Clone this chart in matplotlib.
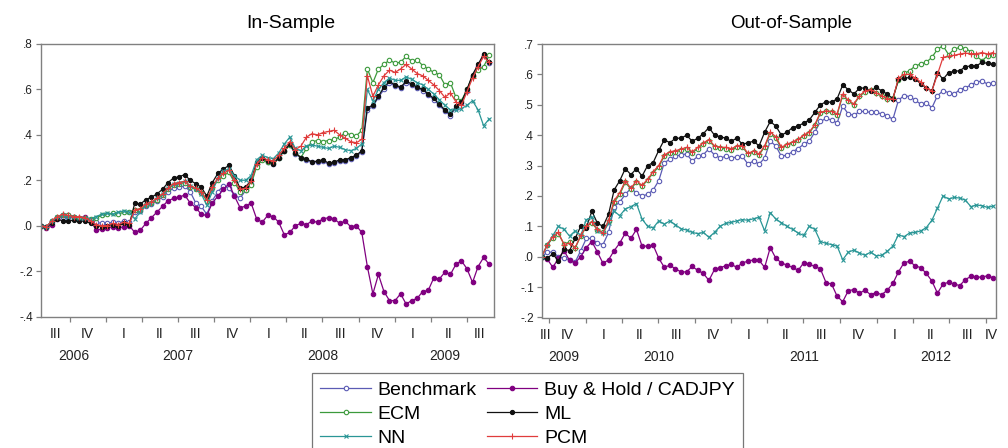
import matplotlib
matplotlib.use("Agg")
import matplotlib.pyplot as plt
import matplotlib.dates as mdates
from matplotlib.transforms import blended_transform_factory
from matplotlib.lines import Line2D
import pandas as pd

plt.rcParams['font.family'] = ['Liberation Sans', 'DejaVu Sans']

# ---------------- data (bi-weekly readings) ----------------
in_start, in_end = "2006-07-20", "2009-09-07"
out_start, out_end = "2009-09-12", "2012-10-27"

in_bench = [0.0, -0.005, 0.02, 0.035, 0.04, 0.04, 0.035, 0.03, 0.03, 0.025,
            0.015, 0.01, 0.01, 0.015, 0.01, 0.02, 0.015, 0.06, 0.065, 0.085,
            0.095, 0.11, 0.125, 0.15, 0.165, 0.17, 0.175, 0.15, 0.1, 0.085,
            0.05, 0.11, 0.15, 0.175, 0.165, 0.135, 0.12, 0.155, 0.185, 0.27,
            0.295, 0.28, 0.27, 0.3, 0.33, 0.355, 0.315, 0.3, 0.29, 0.28,
            0.28, 0.285, 0.27, 0.275, 0.285, 0.285, 0.295, 0.305, 0.325, 0.51,
            0.525, 0.565, 0.6, 0.63, 0.615, 0.605, 0.63, 0.62, 0.605, 0.595,
            0.575, 0.555, 0.53, 0.505, 0.485, 0.52, 0.54, 0.595, 0.66, 0.705,
            0.75, 0.715]
in_bh = [0.0, -0.01, 0.005, 0.03, 0.045, 0.045, 0.04, 0.035, 0.04, 0.025,
         -0.02, -0.015, -0.01, -0.005, -0.01, -0.005, 0.0, -0.03, -0.02, 0.01,
         0.035, 0.06, 0.085, 0.11, 0.12, 0.125, 0.135, 0.1, 0.08, 0.05,
         0.045, 0.1, 0.13, 0.16, 0.185, 0.13, 0.08, 0.085, 0.1, 0.03,
         0.015, 0.045, 0.04, 0.015, -0.04, -0.03, 0.0, 0.01, 0.005, 0.02,
         0.015, 0.03, 0.035, 0.03, 0.01, 0.02, -0.005, 0.0, -0.03, -0.18,
         -0.3, -0.215, -0.29, -0.33, -0.33, -0.3, -0.345, -0.33, -0.32, -0.29,
         -0.285, -0.23, -0.235, -0.205, -0.215, -0.17, -0.155, -0.19, -0.25, -0.18,
         -0.14, -0.17]
in_ecm = [0.0, -0.005, 0.02, 0.04, 0.045, 0.045, 0.04, 0.035, 0.035, 0.03,
          0.035, 0.045, 0.05, 0.055, 0.05, 0.06, 0.06, 0.07, 0.07, 0.09,
          0.1, 0.115, 0.135, 0.16, 0.18, 0.185, 0.19, 0.17, 0.16, 0.145,
          0.11, 0.165, 0.2, 0.22, 0.235, 0.19, 0.15, 0.155, 0.18, 0.26,
          0.29, 0.28, 0.275, 0.3, 0.33, 0.355, 0.32, 0.3, 0.34, 0.37,
          0.375, 0.37, 0.375, 0.38, 0.39, 0.41, 0.4, 0.395, 0.42, 0.69,
          0.63, 0.69, 0.71, 0.73, 0.715, 0.72, 0.745, 0.725, 0.73, 0.705,
          0.69, 0.675, 0.665, 0.62, 0.63, 0.565, 0.55, 0.6, 0.66, 0.685,
          0.7, 0.75]
in_ml = [0.0, -0.005, 0.01, 0.03, 0.02, 0.02, 0.025, 0.02, 0.02, 0.01,
         0.0, -0.005, 0.0, 0.005, 0.0, 0.01, 0.005, 0.1, 0.095, 0.115,
         0.125, 0.14, 0.16, 0.19, 0.21, 0.215, 0.225, 0.2, 0.185, 0.17,
         0.13, 0.19, 0.23, 0.25, 0.265, 0.22, 0.165, 0.17, 0.2, 0.28,
         0.3, 0.285, 0.27, 0.3, 0.33, 0.36, 0.32, 0.3, 0.295, 0.28,
         0.285, 0.29, 0.275, 0.28, 0.29, 0.29, 0.3, 0.31, 0.33, 0.52,
         0.53, 0.57, 0.61, 0.635, 0.62, 0.61, 0.635, 0.625, 0.61, 0.6,
         0.58, 0.56, 0.535, 0.51, 0.49, 0.525, 0.545, 0.6, 0.665, 0.71,
         0.755, 0.72]
in_nn = [0.0, -0.005, 0.02, 0.04, 0.045, 0.04, 0.04, 0.035, 0.035, 0.03,
         0.04, 0.05, 0.055, 0.05, 0.06, 0.065, 0.06, 0.03, 0.06, 0.09,
         0.1, 0.12, 0.14, 0.165, 0.185, 0.19, 0.195, 0.175, 0.16, 0.14,
         0.09, 0.15, 0.21, 0.24, 0.25, 0.22, 0.2, 0.2, 0.22, 0.29,
         0.31, 0.3, 0.295, 0.32, 0.36, 0.39, 0.34, 0.33, 0.35, 0.355,
         0.35, 0.345, 0.34, 0.35, 0.345, 0.335, 0.33, 0.34, 0.36, 0.6,
         0.55, 0.6, 0.63, 0.65, 0.64, 0.64, 0.655, 0.645, 0.63, 0.62,
         0.6, 0.58, 0.555, 0.53, 0.51, 0.51, 0.515, 0.53, 0.55, 0.51,
         0.44, 0.47]
in_pcm = [0.0, -0.005, 0.02, 0.04, 0.05, 0.045, 0.04, 0.04, 0.035, 0.02,
          0.005, 0.0, 0.0, 0.01, 0.005, 0.015, 0.01, 0.07, 0.075, 0.095,
          0.105, 0.12, 0.14, 0.165, 0.185, 0.19, 0.195, 0.175, 0.165, 0.15,
          0.115, 0.17, 0.21, 0.23, 0.245, 0.2, 0.16, 0.165, 0.195, 0.27,
          0.3, 0.29, 0.285, 0.31, 0.34, 0.37, 0.335, 0.35, 0.39, 0.405,
          0.4, 0.41, 0.415, 0.42, 0.4, 0.385, 0.37, 0.365, 0.38, 0.66,
          0.57, 0.62, 0.66, 0.685, 0.675, 0.69, 0.71, 0.69, 0.67, 0.66,
          0.64, 0.62, 0.595, 0.565, 0.585, 0.545, 0.53, 0.59, 0.65, 0.7,
          0.745, 0.72]

out_bench = [0.0, 0.015, 0.015, 0.0, -0.005, -0.01, -0.018, 0.02, 0.06, 0.06,
             0.045, 0.04, 0.08, 0.165, 0.18, 0.205, 0.225, 0.21, 0.2, 0.205,
             0.22, 0.25, 0.31, 0.32, 0.33, 0.336, 0.338, 0.315, 0.33, 0.336,
             0.355, 0.335, 0.325, 0.33, 0.325, 0.328, 0.33, 0.305, 0.315, 0.305,
             0.325, 0.38, 0.365, 0.33, 0.335, 0.345, 0.356, 0.37, 0.38, 0.41,
             0.445, 0.455, 0.45, 0.44, 0.495, 0.47, 0.465, 0.478, 0.478, 0.475,
             0.475, 0.47, 0.464, 0.452, 0.515, 0.53, 0.527, 0.515, 0.502, 0.507,
             0.49, 0.53, 0.546, 0.54, 0.535, 0.55, 0.556, 0.565, 0.575, 0.578,
             0.568, 0.572]
out_bh = [0.0, -0.008, -0.035, -0.005, 0.02, -0.012, -0.02, 0.0, 0.03, 0.05,
          0.015, -0.022, -0.01, 0.02, 0.045, 0.078, 0.06, 0.09, 0.035, 0.035,
          0.038, -0.005, -0.035, -0.028, -0.04, -0.05, -0.05, -0.032, -0.045, -0.055,
          -0.078, -0.042, -0.036, -0.03, -0.025, -0.035, -0.02, -0.015, -0.01, -0.012,
          -0.035, 0.03, -0.005, -0.02, -0.028, -0.035, -0.045, -0.02, -0.025, -0.032,
          -0.04, -0.085, -0.09, -0.13, -0.148, -0.112, -0.108, -0.12, -0.11, -0.125,
          -0.118, -0.125, -0.11, -0.088, -0.05, -0.02, -0.015, -0.03, -0.036, -0.055,
          -0.08, -0.12, -0.09, -0.084, -0.09, -0.095, -0.075, -0.065, -0.066, -0.068,
          -0.062, -0.07]
out_ecm = [0.0, 0.038, 0.062, 0.075, 0.042, 0.048, 0.028, 0.068, 0.098, 0.112,
           0.088, 0.08, 0.118, 0.18, 0.205, 0.245, 0.222, 0.246, 0.232, 0.252,
           0.276, 0.296, 0.332, 0.342, 0.346, 0.35, 0.356, 0.342, 0.356, 0.372,
           0.382, 0.362, 0.357, 0.356, 0.352, 0.36, 0.362, 0.337, 0.345, 0.335,
           0.362, 0.405, 0.39, 0.357, 0.367, 0.375, 0.384, 0.398, 0.408, 0.432,
           0.472, 0.478, 0.475, 0.468, 0.53, 0.512, 0.5, 0.528, 0.542, 0.548,
           0.538, 0.528, 0.52, 0.522, 0.58, 0.603, 0.612, 0.628, 0.634, 0.64,
           0.656, 0.683, 0.694, 0.665, 0.683, 0.689, 0.685, 0.675, 0.66, 0.645,
           0.661, 0.665]
out_ml = [0.0, -0.005, 0.01, -0.015, 0.025, 0.02, 0.06, 0.1, 0.095, 0.15,
          0.11, 0.1, 0.14, 0.22, 0.25, 0.29, 0.27, 0.29, 0.265, 0.3,
          0.31, 0.35, 0.385, 0.375, 0.39, 0.39, 0.4, 0.38, 0.39, 0.405,
          0.425, 0.4, 0.395, 0.39, 0.38, 0.39, 0.37, 0.375, 0.38, 0.365,
          0.41, 0.445, 0.43, 0.4, 0.41, 0.425, 0.43, 0.44, 0.45, 0.475,
          0.5, 0.51, 0.508, 0.52, 0.565, 0.55, 0.535, 0.555, 0.555, 0.545,
          0.557, 0.546, 0.535, 0.52, 0.584, 0.587, 0.59, 0.584, 0.57, 0.555,
          0.546, 0.606, 0.584, 0.606, 0.61, 0.612, 0.625, 0.628, 0.628, 0.64,
          0.636, 0.634]
out_nn = [0.0, 0.04, 0.07, 0.1, 0.09, 0.068, 0.085, 0.07, 0.122, 0.13,
          0.085, 0.078, 0.11, 0.15, 0.135, 0.157, 0.165, 0.175, 0.124, 0.1,
          0.095, 0.118, 0.107, 0.118, 0.105, 0.092, 0.088, 0.08, 0.076, 0.08,
          0.064, 0.08, 0.1, 0.11, 0.113, 0.118, 0.122, 0.12, 0.125, 0.13,
          0.085, 0.145, 0.124, 0.112, 0.1, 0.09, 0.078, 0.07, 0.1, 0.09,
          0.05, 0.044, 0.04, 0.035, -0.01, 0.015, 0.022, 0.012, 0.005, 0.015,
          0.003, 0.005, 0.018, 0.035, 0.072, 0.066, 0.078, 0.08, 0.085, 0.096,
          0.12, 0.16, 0.2, 0.19, 0.195, 0.193, 0.186, 0.165, 0.17, 0.168,
          0.162, 0.167]
out_pcm = [0.0, 0.04, 0.065, 0.08, 0.04, 0.045, 0.03, 0.07, 0.1, 0.115,
           0.09, 0.078, 0.12, 0.185, 0.21, 0.25, 0.225, 0.25, 0.235, 0.255,
           0.28, 0.3, 0.335, 0.345, 0.349, 0.354, 0.36, 0.345, 0.36, 0.375,
           0.385, 0.365, 0.36, 0.36, 0.355, 0.365, 0.365, 0.34, 0.348, 0.338,
           0.365, 0.41, 0.395, 0.36, 0.37, 0.378, 0.386, 0.4, 0.41, 0.435,
           0.475, 0.48, 0.478, 0.47, 0.535, 0.515, 0.503, 0.53, 0.545, 0.55,
           0.54, 0.53, 0.52, 0.519, 0.588, 0.6, 0.6, 0.588, 0.575, 0.555,
           0.546, 0.6, 0.656, 0.66, 0.663, 0.667, 0.67, 0.668, 0.668, 0.672,
           0.667, 0.672]

labels = ["Benchmark", "Buy & Hold / CADJPY", "ECM", "ML", "NN", "PCM"]
# ---------------- styles ----------------
styles = {
    "Benchmark": dict(color="#5b5bb4", marker="o", mfc="white", ms=3.2, mew=0.8),
    "Buy & Hold / CADJPY": dict(color="#800080", marker="o", mfc="#800080", ms=3.2, mew=0.8),
    "ECM": dict(color="#3c9a3c", marker="o", mfc="white", ms=3.2, mew=0.8),
    "ML": dict(color="#111111", marker="o", mfc="#111111", ms=3.0, mew=0.8),
    "NN": dict(color="#2a9696", marker="x", ms=3.2, mew=0.8),
    "PCM": dict(color="#e03c3c", marker="+", ms=4.0, mew=0.8),
}

ROMAN = {1: "I", 2: "II", 3: "III", 4: "IV"}
GRAY = "#808080"


def quarter_starts(s, e):
    y, q = s.year, (s.month - 1) // 3
    out = []
    while True:
        d = pd.Timestamp(y, 3 * q + 1, 1)
        if d > e:
            break
        out.append(d)
        q += 1
        if q == 4:
            q, y = 0, y + 1
    return out


def fmt(v, pos=None):
    s = f"{v:.1f}"
    return s.replace("0.", ".")


def decorate(ax, start, end, ylim, yticks):
    s, e = pd.Timestamp(start), pd.Timestamp(end)
    ax.set_xlim(s, e)
    ax.set_ylim(*ylim)
    ax.set_yticks(yticks)
    ax.yaxis.set_major_formatter(plt.FuncFormatter(fmt))
    qs = quarter_starts(s, e)
    ax.set_xticks([q for q in qs if q > s])
    ax.set_xticklabels([])
    ax.tick_params(axis="both", direction="out", length=3.5, width=0.9,
                   color=GRAY, labelsize=8.5, labelcolor="#222222", pad=2)
    for sp in ax.spines.values():
        sp.set_color(GRAY)
        sp.set_linewidth(1.0)
    trans = blended_transform_factory(ax.transData, ax.transAxes)
    for q in qs:
        nq = q + pd.DateOffset(months=3)
        a, b = max(q, s), min(nq, e)
        c = a + (b - a) / 2
        ax.text(mdates.date2num(c), -0.04, ROMAN[(q.month - 1) // 3 + 1],
                transform=trans, ha="center", va="top", fontsize=10, color="#222222")
    for yr in range(s.year, e.year + 1):
        a = max(pd.Timestamp(yr, 1, 1), s)
        b = min(pd.Timestamp(yr + 1, 1, 1), e)
        c = a + (b - a) / 2
        ax.text(mdates.date2num(c), -0.12, str(yr), transform=trans,
                ha="center", va="top", fontsize=10, color="#222222")


fig = plt.figure(figsize=(10.08, 4.48), dpi=100)
ax1 = fig.add_axes([40.7 / 1008, 1 - 316.5 / 448, 452.8 / 1008, 272.5 / 448])
ax2 = fig.add_axes([541.7 / 1008, 1 - 317.5 / 448, 454.3 / 1008, 273.5 / 448])

in_series = {"Benchmark": in_bench, "Buy & Hold / CADJPY": in_bh, "ECM": in_ecm,
             "ML": in_ml, "NN": in_nn, "PCM": in_pcm}
out_series = {"Benchmark": out_bench, "Buy & Hold / CADJPY": out_bh, "ECM": out_ecm,
              "ML": out_ml, "NN": out_nn, "PCM": out_pcm}

in_dates = pd.date_range(in_start, periods=len(in_ml), freq="14D")
out_dates = pd.date_range(out_start, periods=len(out_ml), freq="14D")

for name in labels:
    st = styles[name]
    ax1.plot(in_dates, in_series[name], color=st["color"], lw=0.9, marker=st["marker"],
             ms=st["ms"], mfc=st.get("mfc", st["color"]), mec=st["color"], mew=st["mew"])
    ax2.plot(out_dates, out_series[name], color=st["color"], lw=0.9, marker=st["marker"],
             ms=st["ms"], mfc=st.get("mfc", st["color"]), mec=st["color"], mew=st["mew"])

decorate(ax1, in_start, in_end, (-0.4, 0.8), [-0.4, -0.2, 0.0, 0.2, 0.4, 0.6, 0.8])
decorate(ax2, out_start, out_end, (-0.2, 0.7), [-0.2, -0.1, 0.0, 0.1, 0.2, 0.3, 0.4, 0.5, 0.6, 0.7])

fig.text(291 / 1008, 1 - 23 / 448, "In-Sample", ha="center", va="center", fontsize=14)
fig.text(791 / 1008, 1 - 23 / 448, "Out-of-Sample", ha="center", va="center", fontsize=13.5)

order = ["Benchmark", "ECM", "NN", "Buy & Hold / CADJPY", "ML", "PCM"]
handles = []
for name in order:
    st = styles[name]
    handles.append(Line2D([0], [0], color=st["color"], lw=0.9, marker=st["marker"],
                          ms=st["ms"], mfc=st.get("mfc", st["color"]), mec=st["color"],
                          mew=st["mew"]))
leg = fig.legend(handles, order, ncol=2, loc="upper left",
                 bbox_to_anchor=(311.7 / 1008, 1 - 372.7 / 448), fontsize=14,
                 frameon=True, fancybox=False, edgecolor="#555555", handlelength=2.6,
                 handletextpad=0.35, columnspacing=0.5, labelspacing=0.32,
                 borderpad=0.45, borderaxespad=0.0)
leg.get_frame().set_linewidth(0.9)

fig.savefig("out.png", dpi=100)
